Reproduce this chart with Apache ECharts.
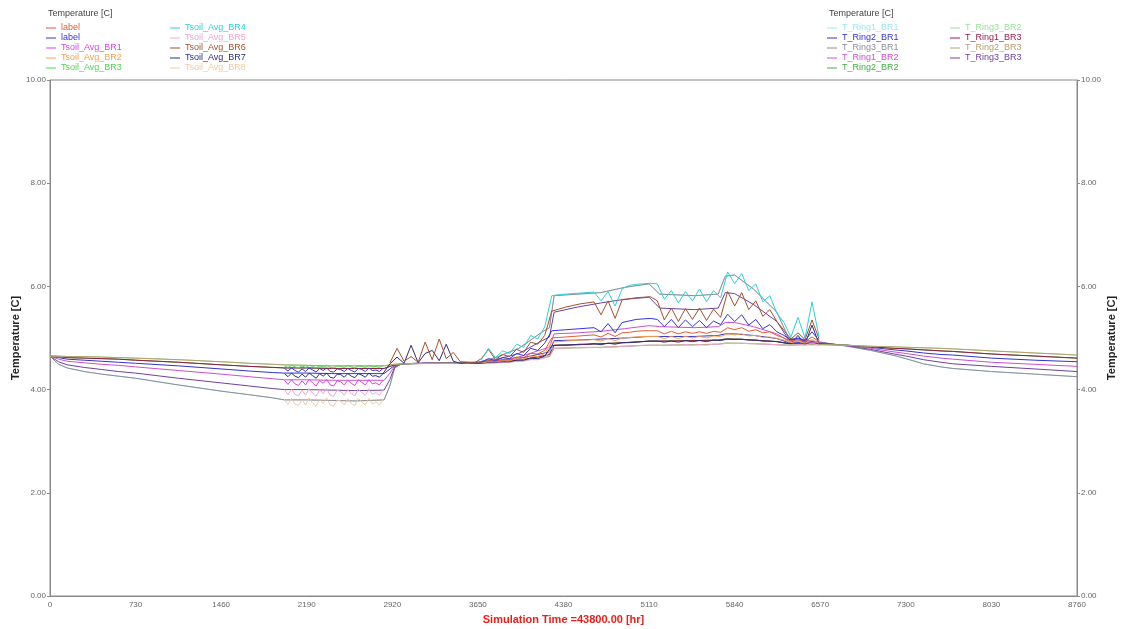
<!DOCTYPE html>
<html>
<head>
<meta charset="utf-8">
<title>Ground temperature</title>
<script src="https://cdn.jsdelivr.net/npm/echarts@6/dist/echarts.min.js"></script>
<style>
  html, body { margin: 0; padding: 0; background: #ffffff; }
  #chart { width: 1122px; height: 629px; }
</style>
</head>
<body>
<div id="chart"></div>
<script>
// ---- simulated ring temperatures (smooth, whole year) ----
const modelHours = [0, 73, 146, 292, 438, 584, 730, 1095, 1460, 1700, 1900, 2000, 2190, 2400, 2600, 2850,
  2900, 2940, 3000, 3285, 3650, 3800, 4000, 4200, 4260, 4300, 4500, 4700, 4900, 5110, 5200,
  5500, 5700, 5760, 5840, 6000, 6200, 6300, 6400, 6570, 6800, 7000, 7200, 7300, 7450, 7600,
  7700, 8030, 8400, 8760];

const level6 = [4.65, 4.65, 4.64, 4.64, 4.63, 4.62, 4.61, 4.58, 4.54, 4.51, 4.49, 4.48,
  4.47, 4.46, 4.46, 4.46, 4.48, 4.49, 4.50, 4.51, 4.51, 4.52, 4.55, 4.62, 4.64, 4.80,
  4.81, 4.82, 4.84, 4.86, 4.86, 4.87, 4.88, 4.90, 4.90, 4.89, 4.87, 4.86, 4.87, 4.87, 4.86,
  4.84, 4.83, 4.82, 4.81, 4.80, 4.79, 4.75, 4.71, 4.67];
const level5 = [4.65, 4.64, 4.62, 4.61, 4.60, 4.59, 4.57, 4.53, 4.48, 4.45, 4.43, 4.42,
  4.42, 4.41, 4.41, 4.41, 4.45, 4.48, 4.50, 4.51, 4.51, 4.53, 4.57, 4.65, 4.68, 4.86,
  4.87, 4.89, 4.91, 4.94, 4.94, 4.95, 4.96, 4.98, 4.98, 4.96, 4.93, 4.89, 4.89, 4.88, 4.86,
  4.83, 4.80, 4.79, 4.77, 4.75, 4.74, 4.69, 4.65, 4.61];
const level4 = [4.65, 4.62, 4.59, 4.57, 4.55, 4.53, 4.51, 4.46, 4.40, 4.36, 4.33, 4.32,
  4.32, 4.31, 4.31, 4.31, 4.40, 4.47, 4.50, 4.51, 4.52, 4.54, 4.60, 4.70, 4.73, 4.95,
  4.96, 4.98, 5.00, 5.03, 5.03, 5.03, 5.05, 5.08, 5.08, 5.05, 4.99, 4.91, 4.91, 4.89, 4.86,
  4.82, 4.77, 4.75, 4.71, 4.68, 4.67, 4.61, 4.57, 4.54];
const level3 = [4.65, 4.59, 4.55, 4.52, 4.49, 4.47, 4.44, 4.37, 4.30, 4.25, 4.21, 4.19,
  4.19, 4.18, 4.18, 4.18, 4.32, 4.46, 4.50, 4.52, 4.52, 4.56, 4.63, 4.78, 4.82, 5.08,
  5.10, 5.13, 5.18, 5.24, 5.22, 5.20, 5.22, 5.30, 5.30, 5.22, 5.08, 4.94, 4.93, 4.90, 4.85,
  4.80, 4.73, 4.70, 4.65, 4.61, 4.59, 4.53, 4.49, 4.45];
const level2 = [4.65, 4.54, 4.48, 4.43, 4.39, 4.35, 4.32, 4.22, 4.13, 4.07, 4.02, 4.00,
  4.00, 3.99, 3.98, 3.99, 4.20, 4.44, 4.50, 4.52, 4.53, 4.58, 4.70, 4.95, 5.02, 5.50,
  5.60, 5.68, 5.75, 5.79, 5.58, 5.55, 5.58, 5.88, 5.86, 5.65, 5.32, 4.97, 4.96, 4.91, 4.85,
  4.78, 4.69, 4.65, 4.58, 4.53, 4.50, 4.45, 4.40, 4.35];
const level1 = [4.65, 4.49, 4.42, 4.35, 4.30, 4.26, 4.22, 4.09, 3.97, 3.90, 3.84, 3.80,
  3.80, 3.79, 3.78, 3.80, 4.08, 4.42, 4.50, 4.52, 4.53, 4.62, 4.80, 5.12, 5.20, 5.82,
  5.85, 5.88, 5.98, 6.05, 5.85, 5.82, 5.85, 6.20, 6.22, 5.95, 5.50, 5.00, 4.98, 4.92, 4.84,
  4.76, 4.66, 4.60, 4.50, 4.44, 4.41, 4.35, 4.30, 4.25];

// ---- measured soil temperatures (hourly logger, sampled) ----
const winterHours = [2000, 2030, 2060, 2090, 2120, 2150, 2180, 2210, 2240, 2270, 2300, 2330, 2360, 2390,
  2420, 2450, 2480, 2510, 2540, 2570, 2600, 2630, 2660, 2690, 2720, 2750, 2780, 2810, 2840];
const spikeHours = [2900, 2960, 3020, 3080, 3140, 3200, 3260, 3320, 3380, 3440, 3500, 3560, 3620];
const summerHours = [3680, 3740, 3800, 3860, 3920, 3980, 4040, 4100, 4160, 4220, 4280, 4340, 4400,
  4460, 4520, 4580, 4640, 4700, 4760, 4820, 4880, 4940, 5000, 5060, 5120, 5180, 5240, 5300,
  5360, 5420, 5480, 5540, 5600, 5660, 5720, 5780, 5840, 5900, 5960, 6020, 6080, 6140, 6200,
  6260, 6320, 6380, 6440, 6500, 6560];

const br3Winter = [4.46, 4.43, 4.47, 4.44, 4.42, 4.46, 4.43, 4.47, 4.45, 4.42, 4.46, 4.44, 4.47, 4.43, 4.42,
  4.46, 4.45, 4.43, 4.47, 4.44, 4.42, 4.46, 4.45, 4.43, 4.47, 4.44, 4.45, 4.43, 4.47];
const blueWinter = [4.41, 4.36, 4.42, 4.37, 4.34, 4.40, 4.35, 4.42, 4.38, 4.34, 4.41, 4.37, 4.42, 4.35, 4.34,
  4.40, 4.39, 4.35, 4.41, 4.37, 4.34, 4.41, 4.39, 4.35, 4.42, 4.37, 4.38, 4.35, 4.41];
const br7Winter = [4.31, 4.25, 4.32, 4.26, 4.23, 4.30, 4.24, 4.32, 4.27, 4.22, 4.31, 4.26, 4.32, 4.24, 4.22,
  4.30, 4.29, 4.24, 4.31, 4.26, 4.23, 4.31, 4.28, 4.24, 4.32, 4.26, 4.27, 4.24, 4.31];
const br1Winter = [4.18, 4.10, 4.19, 4.11, 4.08, 4.17, 4.09, 4.20, 4.13, 4.07, 4.18, 4.12, 4.20, 4.09, 4.07,
  4.17, 4.15, 4.09, 4.18, 4.12, 4.08, 4.19, 4.14, 4.09, 4.19, 4.11, 4.13, 4.09, 4.18];
const br5Winter = [4.00, 3.90, 4.01, 3.91, 3.88, 3.99, 3.89, 4.02, 3.93, 3.87, 4.00, 3.92, 4.02, 3.89, 3.87,
  3.99, 3.96, 3.89, 4.00, 3.92, 3.88, 4.01, 3.94, 3.89, 4.01, 3.91, 3.94, 3.89, 3.99];
const br8Winter = [3.81, 3.71, 3.83, 3.72, 3.69, 3.80, 3.70, 3.84, 3.74, 3.68, 3.82, 3.73, 3.84, 3.70, 3.68,
  3.80, 3.78, 3.70, 3.82, 3.73, 3.69, 3.83, 3.76, 3.70, 3.83, 3.72, 3.76, 3.70, 3.81];

const br6Spring = [4.52, 4.80, 4.55, 4.64, 4.53, 4.92, 4.58, 4.98, 4.60, 4.72, 4.54, 4.53, 4.52];
const br7Spring = [4.50, 4.63, 4.51, 4.86, 4.52, 4.70, 4.76, 4.56, 4.88, 4.55, 4.51, 4.52, 4.51];

const br4Summer = [4.58, 4.80, 4.62, 4.75, 4.70, 4.88, 4.82, 5.05, 4.98, 5.22,
  5.82, 5.84, 5.85, 5.86, 5.87, 5.88, 5.89,
  5.72, 5.90, 5.62, 5.95, 6.02, 6.04, 6.05, 6.06, 6.05,
  5.75, 5.92, 5.68, 5.90, 5.72, 5.95, 5.70, 5.92, 5.78,
  6.28, 6.05, 6.25, 5.92, 6.05, 5.70, 5.82, 5.48, 5.30, 5.02, 5.40, 5.00, 5.70, 5.02];
const br6Summer = [4.60, 4.78, 4.58, 4.68, 4.64, 4.78, 4.72, 4.92, 4.88, 5.05,
  5.52, 5.56, 5.60, 5.63, 5.66, 5.68, 5.70,
  5.45, 5.72, 5.38, 5.74, 5.76, 5.78, 5.79, 5.80, 5.72,
  5.35, 5.58, 5.32, 5.57, 5.36, 5.58, 5.34, 5.56, 5.40,
  5.90, 5.62, 5.88, 5.55, 5.72, 5.42, 5.55, 5.32, 5.15, 4.98, 5.10, 4.97, 5.35, 4.98];
const blueSummer = [4.53, 4.60, 4.56, 4.62, 4.60, 4.70, 4.66, 4.80, 4.76, 4.90,
  5.14, 5.15, 5.16, 5.17, 5.18, 5.19, 5.20,
  5.12, 5.28, 5.10, 5.30, 5.33, 5.36, 5.37, 5.38, 5.36,
  5.22, 5.36, 5.20, 5.35, 5.22, 5.34, 5.20, 5.33, 5.26,
  5.46, 5.32, 5.45, 5.25, 5.36, 5.18, 5.26, 5.12, 5.05, 4.96, 5.00, 4.95, 5.12, 4.95];
const redSummer = [4.53, 4.56, 4.55, 4.58, 4.58, 4.63, 4.62, 4.70, 4.69, 4.76,
  5.00, 5.01, 5.02, 5.03, 5.04, 5.05, 5.06,
  5.02, 5.09, 5.03, 5.10, 5.11, 5.13, 5.14, 5.14, 5.14,
  5.08, 5.13, 5.08, 5.12, 5.09, 5.12, 5.09, 5.13, 5.11,
  5.20, 5.16, 5.20, 5.13, 5.16, 5.10, 5.12, 5.05, 5.00, 4.94, 4.97, 4.93, 5.02, 4.93];
const br2Summer = [4.52, 4.54, 4.54, 4.56, 4.56, 4.60, 4.59, 4.65, 4.64, 4.70,
  4.92, 4.93, 4.94, 4.95, 4.96, 4.96, 4.97,
  4.94, 4.99, 4.95, 5.00, 5.01, 5.02, 5.03, 5.03, 5.03,
  4.99, 5.03, 4.99, 5.03, 5.00, 5.03, 5.00, 5.04, 5.03,
  5.08, 5.06, 5.08, 5.04, 5.05, 5.01, 5.02, 4.99, 4.96, 4.91, 4.94, 4.90, 4.97, 4.90];
const br7Summer = [4.51, 4.53, 4.53, 4.54, 4.54, 4.57, 4.57, 4.61, 4.60, 4.65,
  4.85, 4.86, 4.86, 4.87, 4.88, 4.88, 4.89,
  4.87, 4.90, 4.88, 4.91, 4.91, 4.92, 4.93, 4.94, 4.94,
  4.92, 4.94, 4.92, 4.95, 4.93, 4.95, 4.93, 4.96, 4.95,
  4.98, 4.97, 4.98, 4.96, 4.96, 4.94, 4.94, 4.93, 4.91, 4.89, 5.05, 4.88, 5.25, 4.88];
const br5Summer = [4.50, 4.52, 4.52, 4.53, 4.53, 4.55, 4.55, 4.58, 4.58, 4.61,
  4.80, 4.80, 4.81, 4.81, 4.82, 4.82, 4.82,
  4.81, 4.83, 4.82, 4.84, 4.84, 4.85, 4.86, 4.86, 4.86,
  4.85, 4.87, 4.85, 4.87, 4.86, 4.87, 4.86, 4.88, 4.88,
  4.90, 4.89, 4.90, 4.89, 4.89, 4.88, 4.88, 4.87, 4.86, 4.86, 4.87, 4.86, 4.90, 4.86];

// ---- axis ticks ----
const timeTicks = [0, 730, 1460, 2190, 2920, 3650, 4380, 5110, 5840, 6570, 7300, 8030, 8760];
const tempTicks = [0, 2, 4, 6, 8, 10];

// ---- helpers ----
function pairs(xs, ys) { return xs.map((x, i) => [x, ys[i]]); }
const GAP = [[2870, null]];
const FONT = '"Liberation Sans", Arial, sans-serif';

function line(name, color, data) {
  return {
    name: name, type: 'line', data: data, showSymbol: false, symbol: 'none',
    lineStyle: { width: 1, color: color }, itemStyle: { color: color },
    emphasis: { disabled: true }, animation: false
  };
}

// label names: the second one carries a zero-width space so both legend rows exist
const LABEL_RED = 'label';
const LABEL_BLUE = 'label\u200b';

const C = {
  labelRed: '#e45a34', labelBlue: '#3434e0', br1: '#e040e8', br2: '#f7a24a', br3: '#4fd64f',
  br4: '#2fd0d8', br5: '#f0a6d6', br6: '#a0522d', br7: '#2c2c80', br8: '#f2c9a6',
  r1b1: '#9de6f0', r2b1: '#3434c8', r3b1: '#8e8e96', r1b2: '#cc50d0', r2b2: '#3fae3f',
  r3b2: '#96e296', r1b3: '#9c1c44', r2b3: '#b8a070', r3b3: '#7040a0'
};

const series = [
  // simulated rings, drawn first
  line('T_Ring1_BR1', C.r1b1, pairs(modelHours, level1)),
  line('T_Ring3_BR1', C.r3b1, pairs(modelHours, level1)),
  line('T_Ring3_BR3', C.r3b3, pairs(modelHours, level2)),
  line('T_Ring1_BR2', C.r1b2, pairs(modelHours, level3)),
  line('T_Ring2_BR1', C.r2b1, pairs(modelHours, level4)),
  line('T_Ring2_BR2', C.r2b2, pairs(modelHours, level5)),
  line('T_Ring1_BR3', C.r1b3, pairs(modelHours, level5)),
  line('T_Ring3_BR2', C.r3b2, pairs(modelHours, level6)),
  line('T_Ring2_BR3', C.r2b3, pairs(modelHours, level6)),
  // measured averages on top
  line('Tsoil_Avg_BR8', C.br8, pairs(winterHours, br8Winter)),
  line('Tsoil_Avg_BR5', C.br5, pairs(winterHours, br5Winter).concat(GAP, pairs(summerHours, br5Summer))),
  line('Tsoil_Avg_BR1', C.br1, pairs(winterHours, br1Winter)),
  line('Tsoil_Avg_BR7', C.br7, pairs(winterHours, br7Winter).concat(pairs(spikeHours, br7Spring), pairs(summerHours, br7Summer))),
  line('Tsoil_Avg_BR3', C.br3, pairs(winterHours, br3Winter)),
  line('Tsoil_Avg_BR2', C.br2, pairs(summerHours, br2Summer)),
  line(LABEL_RED, C.labelRed, pairs(summerHours, redSummer)),
  line(LABEL_BLUE, C.labelBlue, pairs(winterHours, blueWinter).concat(GAP, pairs(summerHours, blueSummer))),
  line('Tsoil_Avg_BR6', C.br6, pairs(spikeHours, br6Spring).concat(pairs(summerHours, br6Summer))),
  line('Tsoil_Avg_BR4', C.br4, pairs(summerHours, br4Summer))
];

function legendCol(left, items) {
  return {
    left: left, top: 23, orient: 'vertical', itemGap: 0, itemWidth: 10, itemHeight: 1,
    icon: 'rect', padding: 0, selectedMode: false,
    textStyle: { fontSize: 9, fontFamily: FONT, lineHeight: 10 },
    data: items.map(([n, c]) => ({ name: n, textStyle: { color: c } }))
  };
}

const axisName = { fontSize: 11, fontWeight: 'bold', fontFamily: FONT, color: '#222' };
const tickLabel = { fontSize: 8, fontFamily: FONT, color: '#666' };

const option = {
  backgroundColor: '#ffffff',
  animation: false,
  title: [
    { text: 'Temperature [C]', left: 48, top: 9, padding: 0,
      textStyle: { fontSize: 9, fontWeight: 'normal', fontFamily: FONT, color: '#444' } },
    { text: 'Temperature [C]', left: 829, top: 9, padding: 0,
      textStyle: { fontSize: 9, fontWeight: 'normal', fontFamily: FONT, color: '#444' } }
  ],
  legend: [
    legendCol(46, [[LABEL_RED, C.labelRed], [LABEL_BLUE, C.labelBlue], ['Tsoil_Avg_BR1', C.br1],
      ['Tsoil_Avg_BR2', C.br2], ['Tsoil_Avg_BR3', C.br3]]),
    legendCol(170, [['Tsoil_Avg_BR4', C.br4], ['Tsoil_Avg_BR5', C.br5], ['Tsoil_Avg_BR6', C.br6],
      ['Tsoil_Avg_BR7', C.br7], ['Tsoil_Avg_BR8', C.br8]]),
    legendCol(827, [['T_Ring1_BR1', C.r1b1], ['T_Ring2_BR1', C.r2b1], ['T_Ring3_BR1', C.r3b1],
      ['T_Ring1_BR2', C.r1b2], ['T_Ring2_BR2', C.r2b2]]),
    legendCol(950, [['T_Ring3_BR2', C.r3b2], ['T_Ring1_BR3', C.r1b3], ['T_Ring2_BR3', C.r2b3],
      ['T_Ring3_BR3', C.r3b3]])
  ],
  grid: { left: 50, right: 45, top: 80, bottom: 33, containLabel: false, outerBoundsMode: 'none',
    show: true, borderColor: '#8a8a8a', borderWidth: 1, backgroundColor: 'transparent' },
  xAxis: {
    type: 'value', min: timeTicks[0], max: timeTicks[timeTicks.length - 1],
    interval: timeTicks[1] - timeTicks[0],
    name: 'Simulation Time =43800.00 [hr]', nameLocation: 'middle', nameGap: 18,
    nameMoveOverlap: false,
    nameTextStyle: Object.assign({}, axisName, { color: '#e8201c' }),
    axisLine: { lineStyle: { color: '#8a8a8a' } },
    axisTick: { show: false },
    splitLine: { show: false },
    axisLabel: Object.assign({ margin: 5, formatter: v => String(v) }, tickLabel)
  },
  yAxis: [0, 1].map(k => ({
    type: 'value', position: k === 0 ? 'left' : 'right',
    min: tempTicks[0], max: tempTicks[tempTicks.length - 1], interval: tempTicks[1] - tempTicks[0],
    name: 'Temperature [C]', nameLocation: 'middle', nameGap: 29, nameMoveOverlap: false,
    nameTextStyle: axisName,
    axisLine: { show: true, lineStyle: { color: '#8a8a8a' } },
    axisTick: { show: true, length: 3, lineStyle: { color: '#8a8a8a' } },
    splitLine: { show: false },
    axisLabel: Object.assign({ margin: 4, formatter: v => v.toFixed(2) }, tickLabel)
  })),
  series: series
};

const chart = echarts.init(document.getElementById('chart'), null, { renderer: 'canvas' });
chart.setOption(option);
</script>
</body>
</html>
